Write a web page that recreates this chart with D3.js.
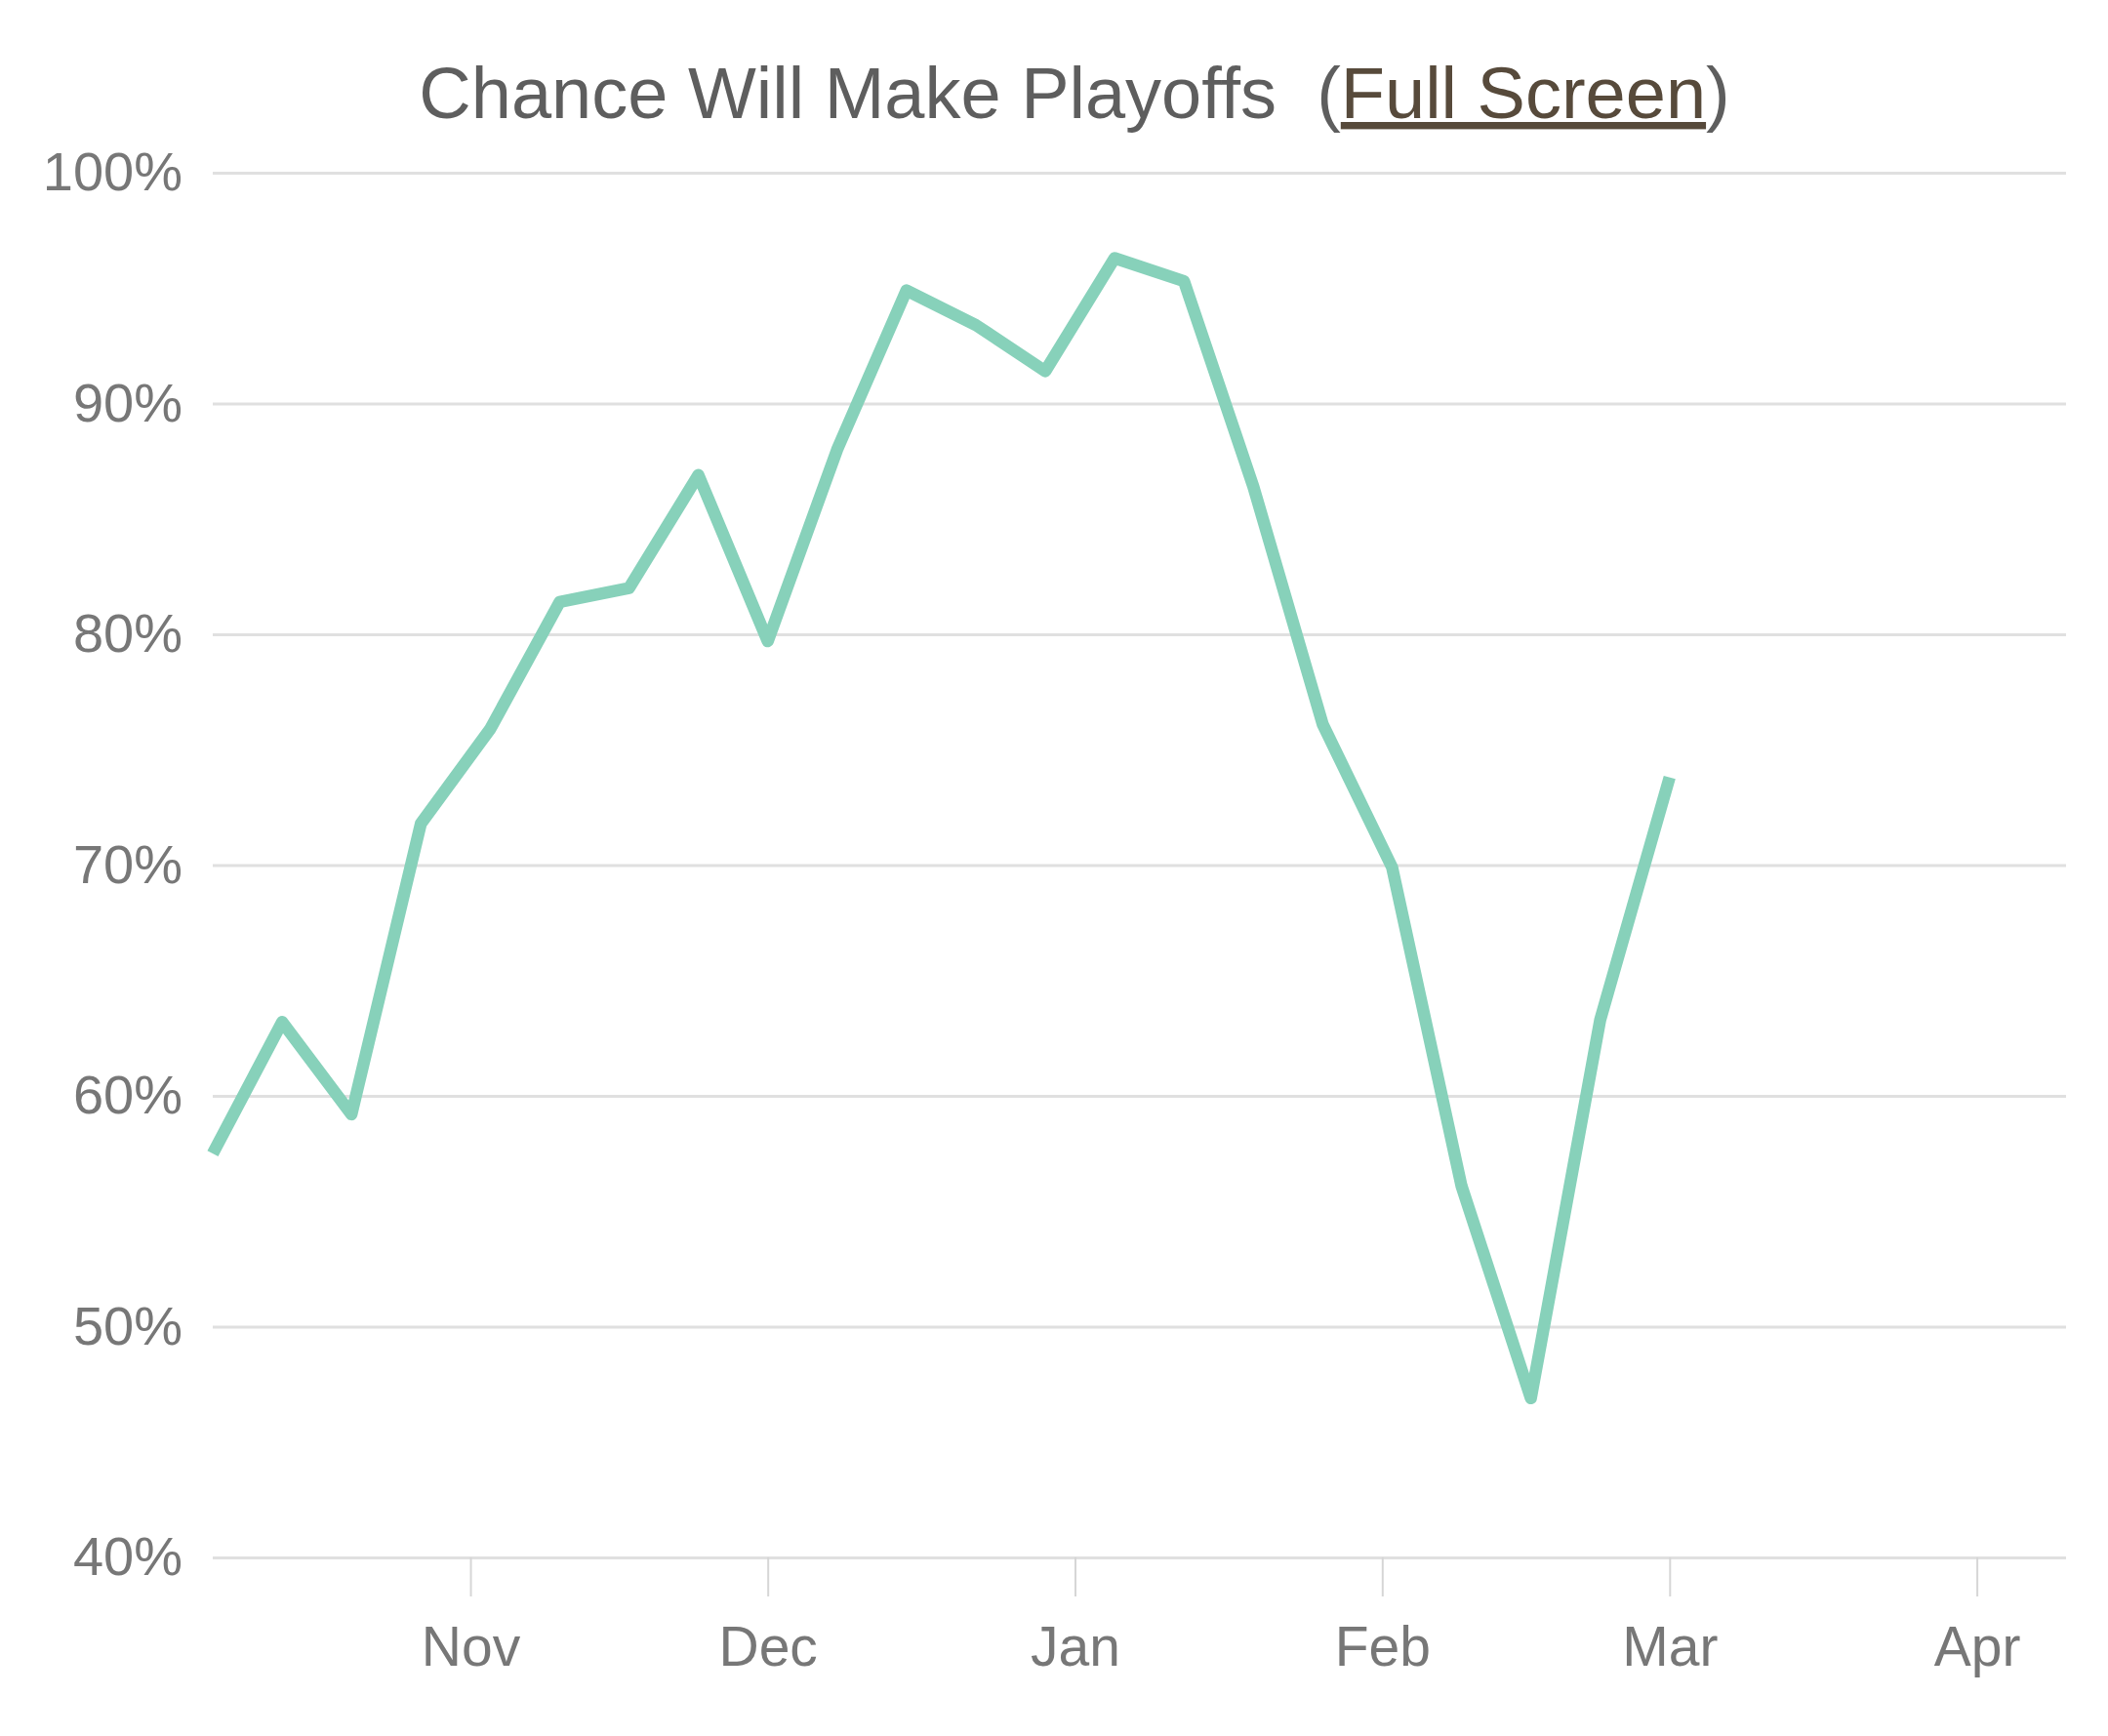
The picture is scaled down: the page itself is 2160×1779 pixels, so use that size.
<!DOCTYPE html>
<html>
<head>
<meta charset="utf-8">
<script src="https://cdn.jsdelivr.net/npm/d3@7"></script>
<style>
  html, body { margin: 0; padding: 0; background: #ffffff; }
  svg { display: block; }
  text { font-family: "Liberation Sans", Arial, Helvetica, sans-serif; }
</style>
</head>
<body>
<svg id="chart" width="2160" height="1779"></svg>
<script>
// ---- data ----
const dates = ["2015-10-06","2015-10-13","2015-10-20","2015-10-27","2015-11-03","2015-11-10",
               "2015-11-17","2015-11-24","2015-12-01","2015-12-08","2015-12-15","2015-12-22",
               "2015-12-29","2016-01-05","2016-01-12","2016-01-19","2016-01-26","2016-02-02",
               "2016-02-09","2016-02-16","2016-02-23","2016-03-01"];
const values = [57.5, 63.2, 59.2, 71.8, 75.9, 81.4, 82.0, 86.9, 79.7, 88.0, 94.9,
                93.4, 91.4, 96.3, 95.3, 86.4, 76.1, 69.9, 56.1, 46.9, 63.3, 73.8];
const xDomain = ["2015-10-06", "2016-04-10"];
const yTicks = [40, 50, 60, 70, 80, 90, 100];
const titleMain = "Chance Will Make Playoffs\u00a0\u00a0(";
const titleLink = "Full Screen";
const titleEnd = ")";

// ---- layout ----
const plotLeft = 218, plotRight = 2117, plotTop = 177, plotBottom = 1596;
const parse = d3.timeParse("%Y-%m-%d");
const data = dates.map((d, i) => ({ date: parse(d), value: values[i] }));

const x = d3.scaleTime().domain(xDomain.map(parse)).range([plotLeft, plotRight]);
const y = d3.scaleLinear().domain([40, 100]).range([plotBottom, plotTop]);

const svg = d3.select("#chart");

// title
const title = svg.append("text")
  .attr("x", 1101).attr("y", 121)
  .attr("text-anchor", "middle")
  .attr("font-size", 74)
  .attr("fill", "#5e5e5e");
title.append("tspan").text(titleMain);
title.append("tspan").text(titleLink).attr("fill", "#574a3b")
  .style("text-decoration", "underline");
title.append("tspan").text(titleEnd);

// y axis with gridlines
const yAxis = d3.axisLeft(y)
  .tickValues(yTicks)
  .tickSize(-(plotRight - plotLeft))
  .tickPadding(31)
  .tickFormat(d => d + "%");
const gy = svg.append("g").attr("transform", `translate(${plotLeft},0)`).call(yAxis);
gy.select(".domain").remove();
gy.selectAll(".tick line").attr("stroke", "#e0e0e0").attr("stroke-width", 3);
gy.selectAll(".tick text")
  .attr("font-size", 56)
  .attr("fill", "#777777")
  .attr("font-family", "'Liberation Sans', Arial, sans-serif");

// x axis
const xAxis = d3.axisBottom(x)
  .ticks(d3.timeMonth.every(1))
  .tickSize(40)
  .tickFormat(d3.timeFormat("%b"));
const gx = svg.append("g").attr("transform", `translate(0,${plotBottom})`).call(xAxis);
gx.select(".domain").remove();
gx.selectAll(".tick line").attr("stroke", "#d6d6d6").attr("stroke-width", 2);
gx.selectAll(".tick text")
  .attr("y", 111).attr("dy", 0)
  .attr("font-size", 57)
  .attr("fill", "#777777")
  .attr("font-family", "'Liberation Sans', Arial, sans-serif");

// line
const line = d3.line().x(d => x(d.date)).y(d => y(d.value));
svg.append("path")
  .datum(data)
  .attr("d", line)
  .attr("fill", "none")
  .attr("stroke", "#87d1ba")
  .attr("stroke-width", 12.5)
  .attr("stroke-linejoin", "round")
  .attr("stroke-linecap", "butt");
</script>
</body>
</html>
